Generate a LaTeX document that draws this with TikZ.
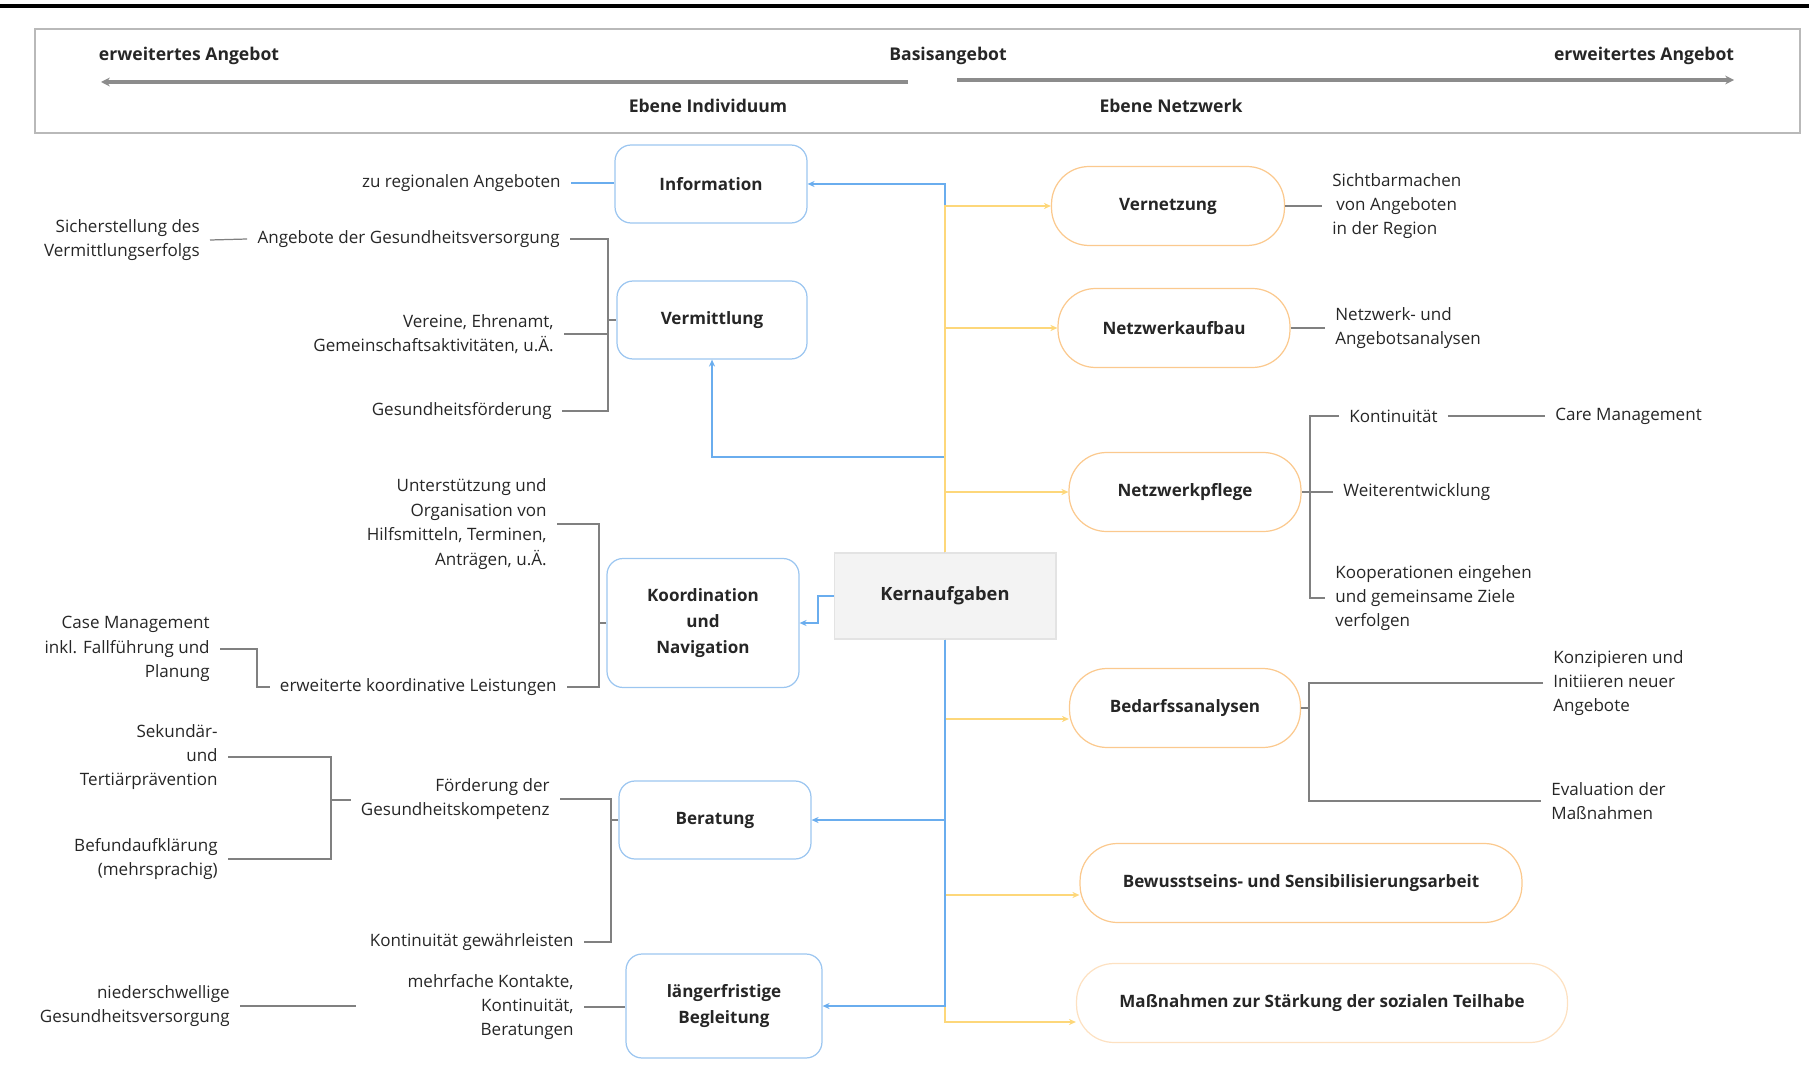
\documentclass[tikz,border=0pt]{standalone}
\usepackage{fontspec}
\setmainfont{Open Sans}
\usetikzlibrary{arrows.meta}

\definecolor{linieBlau}{HTML}{6AADEE}
\definecolor{randBlau}{HTML}{9CC6F0}
\definecolor{randOrange}{HTML}{FBC98E}
\definecolor{linieGelb}{HTML}{FDD77A}
\definecolor{kernFill}{HTML}{F3F3F3}
\definecolor{kernRand}{HTML}{E3E3E3}
\definecolor{astGrau}{HTML}{808080}
\definecolor{schrift}{HTML}{262626}

\tikzset{
	kern/.style={draw=kernRand, fill=kernFill, line width=0.6pt, minimum width=4.44cm, minimum height=1.72cm, font=\fontsize{10.4}{13}\selectfont\bfseries},
	indiv/.style={draw=randBlau, line width=0.7pt, rounded corners=0.32cm, align=center, font=\fontsize{9.7}{14.6}\selectfont\bfseries},
	netz/.style={draw=randOrange, line width=0.7pt, rounded corners=0.75cm, align=center, minimum height=1.58cm, font=\fontsize{9.7}{14}\selectfont\bfseries},
	txtl/.style={anchor=east, align=right, inner xsep=0.2cm, inner ysep=0pt},
	txtr/.style={anchor=west, align=left, inner xsep=0.2cm, inner ysep=0pt},
	kopf/.style={font=\fontsize{10}{12}\selectfont\bfseries},
	ast/.style={draw=astGrau, line width=0.7pt},
	pfB/.style={draw=linieBlau, line width=0.9pt, -{Stealth[length=4pt,width=3.5pt]}},
	pfO/.style={draw=linieGelb, line width=0.9pt, -{Stealth[length=4pt,width=3.5pt]}},
	skala/.style={draw=gray!90, line width=2pt, -{Stealth[length=5pt,width=5pt]}},
}

\begin{document}
\begin{tikzpicture}[x=0.02cm, y=-0.02cm, text=schrift, font=\fontsize{9.7}{13.9}\selectfont]
	\useasboundingbox (0,0) rectangle (1809,1071);

	\draw[black, line width=2.4pt] (0,6) -- (1809,6);
	\draw[gray!55, line width=0.8pt] (35,29) rectangle (1800,133);

	\node[kopf] (erwL) at (189,56) {erweitertes Angebot};
	\node[kopf] (basis) at (948,56) {Basisangebot};
	\node[kopf] (erwR) at (1644,56) {erweitertes Angebot};
	\node[kopf] (ebeneI) at (708,106) {Ebene Individuum};
	\node[kopf] (ebeneN) at (1171,106) {Ebene Netzwerk};

	\coordinate (linksA) at (908,82);
	\coordinate (linksE) at (101,82);
	\coordinate (rechtsA) at (957,80);
	\coordinate (rechtsE) at (1734,80);
	\draw[skala] (linksA) -- (linksE);
	\draw[skala] (rechtsA) -- (rechtsE);

	\node[kern] (Kern) at (945,596) {Kernaufgaben};

	\node[indiv, minimum width=3.84cm, minimum height=1.56cm] (Info) at (711,184) {Information};
	\node[indiv, minimum width=3.80cm, minimum height=1.56cm] (Verm) at (712,320) {Vermittlung};
	\node[indiv, minimum width=3.84cm, minimum height=2.58cm] (Koord) at (703,623) {Koordination\\und\\Navigation};
	\node[indiv, minimum width=3.84cm, minimum height=1.56cm] (Berat) at (715,820) {Beratung};
	\node[indiv, minimum width=3.92cm, minimum height=2.08cm] (Begl) at (724,1006) {längerfristige\\Begleitung};

	\node[netz, minimum width=4.66cm] (Vern) at (1168,206) {Vernetzung};
	\node[netz, minimum width=4.64cm] (Aufbau) at (1174,328) {Netzwerkaufbau};
	\node[netz, minimum width=4.64cm] (Pflege) at (1185,492) {Netzwerkpflege};
	\node[netz, minimum width=4.62cm] (Bedarf) at (1185,708) {Bedarfssanalysen};
	\node[netz, minimum width=8.84cm] (Bewusst) at (1301,883) {Bewusstseins- und Sensibilisierungsarbeit};
	\node[netz, draw=randOrange!55, minimum width=9.82cm] (Teilhabe) at (1322,1003) {Maßnahmen zur Stärkung der sozialen Teilhabe};

	\node[txtl] (regional) at (571,183) {zu regionalen Angeboten};
	\node[txtl] (angebote) at (570,239) {Angebote der Gesundheitsversorgung};
	\node[txtl] (sicher) at (210,240) {Sicherstellung des\\Vermittlungserfolgs};
	\node[txtl] (vereine) at (564,334) {Vereine, Ehrenamt,\\Gemeinschaftsaktivitäten, u.Ä.};
	\node[txtl] (gesfoerd) at (562,411) {Gesundheitsförderung};
	\node[txtl] (unterst) at (557,524) {Unterstützung und\\Organisation von\\Hilfsmitteln, Terminen,\\Anträgen, u.Ä.};
	\node[txtl] (erwkoord) at (567,687) {erweiterte koordinative Leistungen};
	\node[txtl] (casem) at (220,649) {Case Management\\inkl. Fallführung und\\Planung};
	\node[txtl] (kompetenz) at (560,799) {Förderung der\\Gesundheitskompetenz};
	\node[txtl] (kontgew) at (584,942) {Kontinuität gewährleisten};
	\node[txtl] (praev) at (228,757) {Sekundär-\\und\\Tertiärprävention};
	\node[txtl] (befund) at (228,859) {Befundaufklärung\\(mehrsprachig)};
	\node[txtl] (kontakte) at (584,1007) {mehrfache Kontakte,\\Kontinuität,\\Beratungen};
	\node[txtl] (niedrig) at (240,1006) {niederschwellige\\Gesundheitsversorgung};

	\node[txtr] (sichtbar) at (1322,206) {Sichtbarmachen\\\hspace*{0.08cm}von Angeboten\\in der Region};
	\node[txtr] (analysen) at (1325,328) {Netzwerk- und\\Angebotsanalysen};
	\node[txtr] (kontin) at (1339,416) {Kontinuität};
	\node[txtr] (caremgmt) at (1545,416) {Care Management};
	\node[txtr] (weiter) at (1333,492) {Weiterentwicklung};
	\node[txtr] (koop) at (1325,598) {Kooperationen eingehen\\und gemeinsame Ziele\\verfolgen};
	\node[txtr] (konzip) at (1543,683) {Konzipieren und\\Initiieren neuer\\Angebote};
	\node[txtr] (evaluation) at (1541,801) {Evaluation der\\Maßnahmen};

	\coordinate (knickV) at (945,457);
	\coordinate (knickK) at (818,596);
	\draw[pfB] (Kern.north) |- (Info.east);
	\draw[pfB] (Kern.north) -- (knickV) -| (Verm.south);
	\draw[pfB] (Kern.west) -- (knickK) |- (Koord.east);
	\draw[pfO] (Kern.north) |- (Vern.west);
	\draw[pfO] (Kern.north) |- (Aufbau.west);
	\draw[pfO] (Kern.north) |- (Pflege.west);
	\draw[pfO] (Kern.south) |- ([yshift=-0.22cm]Bedarf.west);
	\draw[pfO] (Kern.south) |- ([yshift=-0.24cm]Bewusst.west);
	\draw[pfO] (Kern.south) |- ([yshift=-0.38cm]Teilhabe.west);
	\draw[pfB] (Kern.south) |- (Berat.east);
	\draw[pfB] (Kern.south) |- (Begl.east);

	\draw[linieBlau, line width=0.9pt] (regional.east) -- (regional.east -| Info.west);

	\coordinate (vb) at (608,320);
	\draw[ast] (angebote.east) -| (vb) |- (gesfoerd.east);
	\draw[ast] (vereine.east) -- (vereine.east -| vb);
	\draw[ast] (vb) -- (Verm.west);
	\draw[ast] (sicher.east) -- (angebote.west);

	\coordinate (kb) at (599,623);
	\draw[ast] (unterst.east) -| (kb) |- (erwkoord.east);
	\draw[ast] (kb) -- (Koord.west);
	\coordinate (ce) at (257,649);
	\draw[ast] (casem.east) -- (ce) |- (erwkoord.west);

	\coordinate (bb) at (611,820);
	\draw[ast] (kompetenz.east) -| (bb) |- (kontgew.east);
	\draw[ast] (bb) -- (Berat.west);
	\coordinate (sb) at (331,800);
	\draw[ast] (praev.east) -| (sb) |- (befund.east);
	\draw[ast] (sb) -- (sb -| kompetenz.west);

	\draw[ast] (kontakte.east) -- (kontakte.east -| Begl.west);
	\coordinate (niedrigE) at (356,1006);
	\draw[ast] (niedrig.east) -- (niedrigE);

	\draw[ast] (Vern.east) -- (sichtbar.west);
	\draw[ast] (Aufbau.east) -- (analysen.west);
	\coordinate (pb) at (1310,492);
	\draw[ast] (kontin.west) -| (pb) |- (koop.west);
	\draw[ast] (Pflege.east) -- (weiter.west);
	\draw[ast] (kontin.east) -- (caremgmt.west);
	\coordinate (db) at (1309,708);
	\draw[ast] (konzip.west) -| (db) |- (evaluation.west);
	\draw[ast] (Bedarf.east) -- (db);
\end{tikzpicture}
\end{document}
